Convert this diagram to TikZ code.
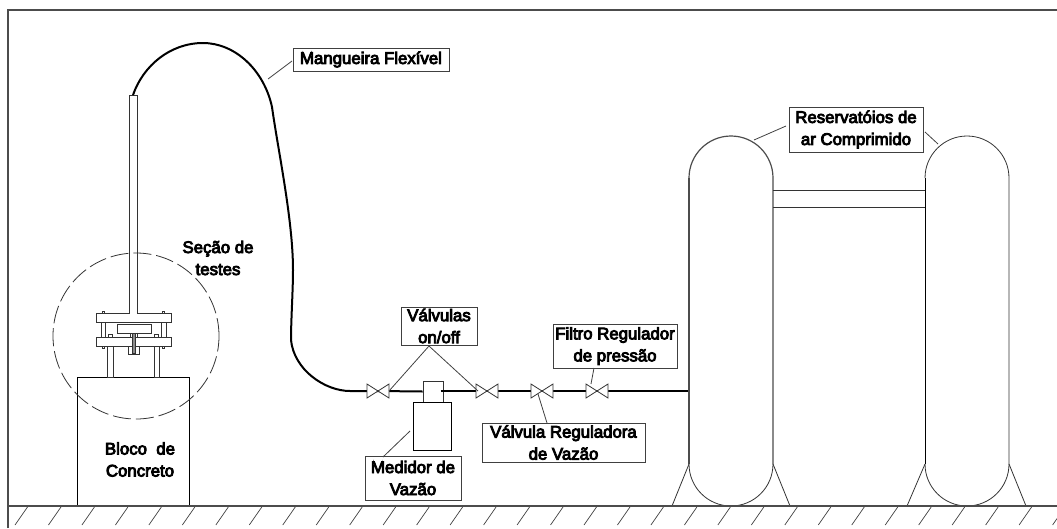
\documentclass[tikz,border=0pt]{standalone}
\usepackage{fontspec}
\setmainfont{Liberation Sans}
\newfontfamily\lblfont[RawFeature={embolden=5}]{Liberation Sans}
\tikzset{
  line/.style={draw=black!80,line width=0.8pt},
  heavy line/.style={draw=black!70,line width=1.2pt},
  thin line/.style={draw=black!75,line width=0.7pt},
  pipe/.style={draw=black,line width=2pt},
  lbl/.style={draw=black!75,line width=0.8pt,fill=white,align=center,font=\lblfont\fontsize{16.8}{22}\selectfont,inner sep=0pt,text=black},
  free/.style={align=center,font=\lblfont\fontsize{16.8}{22}\selectfont,inner sep=0pt,text=black},
  lead/.style={draw=black!75,line width=0.8pt},
  valve/.style={draw=black!80,line width=0.8pt,fill=white}
}
\newcommand{\valv}[2]{\draw[valve] (#1-11,#2-7) -- (#1+11,#2+7) -- (#1+11,#2-7) -- (#1-11,#2+7) -- cycle;}
\begin{document}
\begin{tikzpicture}[x=1pt,y=-1pt]
\useasboundingbox (0,0) rectangle (1057,528);
\clip (0,0) rectangle (1057,528);
% frame and ground
\draw[heavy line] (8,528) -- (8,10) -- (1057,10);
\foreach \i in {0,...,31} {
  \draw[thin line] ({15+33.47*\i},525) -- ({27.5+33.47*\i},507);
}
% concrete block
\node[draw=black,line width=0.7pt,minimum width=112pt,minimum height=129pt,inner sep=0pt] (bloco) at (133,441.5) {};
\node[free] (blocotxt) at (140,459.5) {Bloco\ \ de\\Concreto};
% test section
\draw[line,fill=white] (129,95) -- (137,95) -- (137,313) -- (171,313) -- (171,322) -- (96,322) -- (96,313) -- (129,313) -- cycle;
\draw[line] (101.5,322) rectangle (105.5,337);
\draw[line] (161.5,322) rectangle (166,337);
\draw[line] (117,324) rectangle (151,333);
\draw[line] (130,333) -- (130,337);
\draw[line] (137,333) -- (137,337);
\draw[line,fill=white] (96,337) rectangle (171,346);
\draw[line] (128,346) rectangle (139,354);
\draw[line,fill=black!45] (132,333) rectangle (135,353);
\draw[line,fill=white] (107,346) rectangle (113,377);
\draw[line,fill=white] (154,346) rectangle (159,377);
\draw[line] (102,311) rectangle (104.7,313);
\draw[line] (162,311) rectangle (164.7,313);
\draw[line] (102,346) rectangle (104.7,348);
\draw[line] (162,346) rectangle (164.7,348);
\draw[line] (108,337) -- (108,334) -- (112,334) -- (112,337);
\draw[line] (154,337) -- (154,334) -- (158,334) -- (158,337);
% dashed circle
\node[circle,draw=black!80,line width=0.8pt,dash pattern=on 18pt off 5pt,minimum size=166pt,inner sep=0pt] (secao) at (136,336) {};
% hose
\coordinate (hA) at (133,95);
\coordinate (v1) at (378,391);
\coordinate (v2) at (487,391);
\coordinate (v3) at (542,391);
\coordinate (v4) at (597,391);
\coordinate (pipeEnd) at (690,391);
\coordinate (medIn) at (440.5,391);
\draw[pipe] (hA) .. controls (143,66) and (170,43) .. (203,43)
  .. controls (235,43) and (264,70) .. (272,107)
  .. controls (278,150) and (293,220) .. (293,270)
  .. controls (293,290) and (291,320) .. (291,340)
  .. controls (294,370) and (325,391) .. (350,391) -- (v1);
% flow meter
\node[draw=black!80,line width=0.8pt,minimum width=20pt,minimum height=21pt,inner sep=0pt] (medtop) at (433,391.5) {};
\node[draw=black,line width=0.8pt,fill=white,minimum width=38pt,minimum height=48pt,inner sep=0pt] (medidor) at (432,426) {};
% pipeline
\draw[pipe] (v1) -- (medtop.west);
\draw[pipe] (medIn) -- (v2) -- (v3) -- (v4) -- (pipeEnd);
% valves
\valv{378}{391}
\valv{487}{391}
\valv{542}{391}
\valv{597}{391}
% tanks
\draw[heavy line] (689,178) arc[start angle=180,end angle=360,radius=42] -- (773,464);
\draw[heavy line] (689,178) -- (689,464);
\draw[line] (689,464) arc[start angle=180,end angle=0,radius=42];
\draw[line] (773,190) -- (925,190);
\draw[line] (773,207) -- (925,207);
\draw[line] (925,178) arc[start angle=180,end angle=360,radius=42] -- (1009,464);
\draw[line,draw=black] (925,178) -- (925,464);
\draw[line] (925,464) arc[start angle=180,end angle=0,radius=42];
\draw[line] (689,464) -- (672,506);
\draw[line] (773,464) -- (790,506);
\draw[line] (925,464) -- (907,506);
\draw[line] (1009,464) -- (1026,506);
\draw[heavy line] (8,506) -- (1057,506);
% labels
\node[lbl,minimum width=156pt,minimum height=23pt] (mang) at (371,59.5) {Mangueira Flexível};
\node[free] (secaotxt) at (218,258) {Seção de\\testes};
\node[lbl,minimum width=76pt,minimum height=38pt] (onoff) at (439,326) {Válvulas\\on/off};
\node[lbl,minimum width=124pt,minimum height=44pt] (filtro) at (615,346) {Filtro Regulador\\de pressão};
\node[lbl,minimum width=163pt,minimum height=39pt] (regul) at (563.5,442.5) {Válvula Reguladora\\de Vazão};
\node[lbl,minimum width=96pt,minimum height=44pt] (med) at (413,478) {Medidor de\\Vazão};
\node[lbl,minimum width=134pt,minimum height=45pt] (res) at (856,129.5) {Reservatóios de\\ar Comprimido};
% leaders
\coordinate (mangP) at (268,79);
\coordinate (mangQ) at (292,61);
\coordinate (apex) at (429,346);
\coordinate (vA) at (389,391);
\coordinate (vB) at (478,391);
\coordinate (vC) at (538,394);
\coordinate (regQ) at (547,423);
\coordinate (filQ) at (594,368);
\coordinate (vD) at (591,384);
\coordinate (medQ) at (383,457);
\coordinate (medP) at (410,431);
\coordinate (resA) at (754,140);
\coordinate (resAq) at (786,126);
\coordinate (resB) at (938,144);
\coordinate (resBq) at (925,132);
\draw[lead] (mangQ) -- (mangP);
\draw[lead] (vA) -- (apex) -- (vB);
\draw[lead] (filQ) -- (vD);
\draw[lead] (regQ) -- (vC);
\draw[lead] (medQ) -- (medP);
\draw[lead] (resAq) -- (resA);
\draw[lead] (resBq) -- (resB);
\end{tikzpicture}
\end{document}
